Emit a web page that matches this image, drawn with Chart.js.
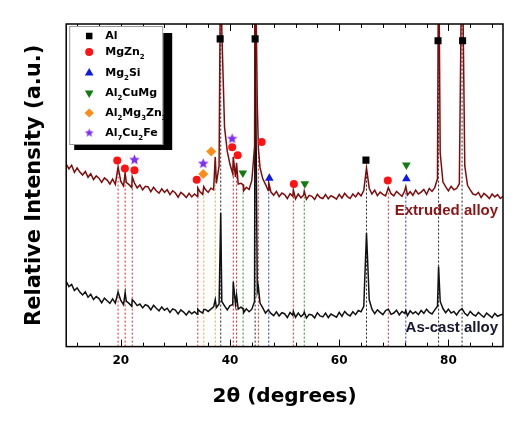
<!DOCTYPE html>
<html>
<head>
<meta charset="utf-8">
<script src="https://cdn.jsdelivr.net/npm/chart.js"></script>
<style>
  html, body { margin: 0; padding: 0; background: #fff; }
</style>
</head>
<body>
<canvas id="xrd" width="522" height="430"></canvas>
<script>
/* ---------- data ---------- */

// scans sampled every 0.5 deg from 10 to 90 (a.u.)
const gridStart = 10;
const gridStep = 0.5;

const extrudedGrid = [
  56.6, 55.1, 56.2, 54.0, 55.4, 54.1, 53.2, 54.3, 52.5, 53.6,
  51.8, 52.9, 52.2, 50.9, 52.3, 51.6, 50.4, 51.9, 50.3, 50.8,
  51.2, 49.8, 50.9, 50.2, 49.3, 50.7, 49.2, 50.1, 48.6, 49.7,
  49.5, 48.0, 49.4, 48.3, 47.6, 48.9, 47.8, 48.6, 47.1, 48.3,
  47.6, 46.3, 47.8, 47.1, 46.2, 47.5, 46.4, 47.3, 46.6, 48.0,
  47.2, 48.7, 47.8, 49.1, 48.6, 50.6, 56.0, 98.0, 68.0, 60.5,
  56.5, 53.6, 52.6, 50.4, 50.6, 48.3, 49.4, 48.7, 51.5, 62.0,
  75.0, 55.5, 52.0, 50.3, 48.4, 47.9, 46.9, 48.1, 46.5, 47.6,
  47.1, 45.9, 47.4, 46.6, 45.8, 47.3, 46.1, 47.0, 45.7, 46.9,
  46.6, 45.6, 47.2, 46.2, 45.9, 47.1, 45.8, 46.8, 46.3, 45.7,
  47.2, 46.0, 47.5, 46.5, 45.9, 47.3, 46.4, 47.7, 46.7, 48.4,
  47.5, 49.1, 47.3, 48.5, 46.8, 47.9, 47.2, 46.7, 48.2, 47.4,
  46.7, 48.1, 47.3, 46.6, 48.3, 47.0, 48.0, 46.9, 48.5, 47.3,
  47.9, 48.7, 47.2, 49.0, 48.1, 49.3, 52.0, 60.0, 51.0, 49.6,
  48.3, 49.7, 48.6, 49.0, 50.5, 52.0, 56.0, 50.0, 48.6, 47.3,
  47.0, 47.8, 46.2, 47.5, 46.8, 45.9, 47.3, 46.4, 47.1, 45.9,
  46.6
];

const asCastGrid = [
  20.2, 18.6, 19.3, 17.4, 18.2, 16.9, 16.0, 17.0, 15.3, 16.2,
  14.6, 15.5, 14.9, 13.6, 15.0, 14.2, 13.4, 14.8, 13.5, 13.8,
  14.3, 13.0, 14.1, 13.4, 12.5, 13.8, 12.7, 13.2, 12.0, 13.0,
  12.6, 11.4, 12.8, 11.9, 11.1, 12.3, 11.3, 11.9, 10.6, 11.7,
  11.3, 10.1, 11.4, 10.7, 9.8, 11.0, 10.2, 10.8, 10.0, 10.9,
  10.4, 11.5, 10.9, 11.6, 12.3, 12.1, 13.2, 14.0, 12.6, 11.4,
  12.7, 13.0, 13.2, 11.6, 12.2, 10.5, 11.7, 10.8, 11.6, 14.0,
  17.0, 13.5, 12.0, 10.4, 11.4, 10.3, 9.6, 10.8, 9.5, 10.5,
  10.2, 9.0, 10.6, 9.7, 9.1, 10.4, 9.3, 10.1, 8.9, 10.0,
  9.8, 8.9, 10.5, 9.5, 9.2, 10.4, 9.0, 10.1, 9.6, 9.1,
  10.6, 9.4, 10.9, 10.0, 9.5, 10.8, 9.9, 11.2, 10.8, 12.5,
  11.5, 14.5, 11.6, 10.2, 11.4, 10.6, 9.9, 11.2, 11.1, 10.0,
  10.4, 11.3, 9.8, 10.9, 10.3, 9.6, 11.1, 10.2, 10.8, 9.9,
  11.2, 10.3, 11.6, 10.6, 10.1, 11.4, 12.5, 14.0, 11.8, 10.5,
  11.6, 10.4, 10.9, 9.8, 11.1, 11.0, 10.3, 9.6, 10.9, 10.0,
  9.5, 10.6, 9.8, 9.1, 10.4, 9.7, 9.0, 10.3, 9.4, 9.8,
  10.0
];

// reflection positions and the scan heights there (130 = off the top)
const peakAngle    = [19.5, 20.8, 22.1, 34.1, 35.2, 37.3, 38.3, 40.6, 41.2, 42.4,
                      44.6, 45.2, 47.1, 51.6, 53.6, 65.0, 69.0, 72.2, 78.2, 82.5];
const peakExtruded = [55.7, 53.9, 52.6, 49.2, 49.6, 58.8, 130, 58.8, 57.0, 50.2,
                      130, 61.5, 50.8, 48.6, 48.2, 55.4, 49.3, 49.6, 130, 130];
const peakAsCast   = [16.9, 16.7, 14.5, 11.6, 11.5, 14.6, 41.5, 20.1, 16.0, 11.8,
                      105, 18.6, 11.4, 10.9, 10.7, 35.3, 11.6, 11.2, 24.8, 11.8];

// dotted guide lines per phase
const refRed    = [19.5, 20.8, 22.1, 34.1, 40.6, 41.2, 45.2, 51.6, 69.0];
const refOrange = [35.2, 37.3];
const refGreen  = [42.4, 53.6];
const refBlue   = [47.1, 72.2];
const refBlack  = [38.3, 44.6, 65.0, 78.2, 82.5];

// phase symbols
const alAngle        = [38.2, 44.6, 64.9, 78.1, 82.6];
const alHeight       = [95.4, 95.4, 57.8, 94.8, 94.8];
const mgZn2Angle     = [19.35, 20.75, 22.5, 33.9, 40.4, 41.4, 45.8, 51.7, 68.9];
const mgZn2Height    = [57.7, 55.2, 54.7, 51.7, 61.8, 59.3, 63.4, 50.4, 51.5];
const mg2SiAngle     = [47.2, 72.3];
const mg2SiHeight    = [52.2, 52.0];
const al2CuMgAngle   = [42.35, 53.7, 72.3];
const al2CuMgHeight  = [53.8, 50.5, 56.3];
const al2Mg3Zn3Angle = [35.1, 36.55];
const al2Mg3Zn3Height= [53.5, 60.5];
const al7Cu2FeAngle  = [22.5, 35.1, 40.4];
const al7Cu2FeHeight = [57.9, 56.7, 64.4];

const xTicks = [20, 40, 60, 80];

/* ---------- helpers ---------- */

function buildTrace(grid, peaks) {
  const pts = grid.map((y, i) => ({ x: +(gridStart + i * gridStep).toFixed(2), y }));
  peakAngle.forEach((a, i) => {
    const hit = pts.find(p => Math.abs(p.x - a) < 1e-6);
    if (hit) hit.y = peaks[i];
    else pts.push({ x: a, y: peaks[i] });
  });
  return pts.sort((p, q) => p.x - q.x);
}

function pairUp(xs, ys) {
  return xs.map((x, i) => ({ x, y: ys[i] }));
}

function makeStar(color, r) {
  const c = document.createElement('canvas');
  const s = Math.ceil(r * 2 + 2);
  c.width = c.height = s;
  const g = c.getContext('2d');
  g.fillStyle = color;
  g.beginPath();
  for (let k = 0; k < 10; k++) {
    const rr = k % 2 ? r * 0.45 : r;
    const a = -Math.PI / 2 + k * Math.PI / 5;
    g.lineTo(s / 2 + rr * Math.cos(a), s / 2 + rr * Math.sin(a));
  }
  g.closePath();
  g.fill();
  return c;
}

const C_EXT   = '#7e0c0c';
const C_CAST  = '#111111';
const C_AL    = '#000000';
const C_MGZN  = '#ff1212';
const C_MGSI  = '#1018e6';
const C_CUMG  = '#127a12';
const C_MGZN3 = '#ff8c14';
const C_FE    = '#7f2ff0';

const starImg = makeStar(C_FE, 5.5);
const starImgSmall = makeStar(C_FE, 4.5);

const extrudedPts = buildTrace(extrudedGrid, peakExtruded);
const asCastPts = buildTrace(asCastGrid, peakAsCast);

function extrudedAt(a) {
  const i = peakAngle.findIndex(p => Math.abs(p - a) < 1e-6);
  return Math.min(peakExtruded[i], 100);
}

function guideSets(list, color) {
  return list.map(a => ({
    data: [{ x: a, y: 0 }, { x: a, y: extrudedAt(a) }],
    showLine: true, borderColor: color, borderWidth: 1, borderDash: [2, 2],
    pointRadius: 0, order: 3
  }));
}

function markerSet(xs, ys, color, style, radius, rotation) {
  return {
    data: pairUp(xs, ys), showLine: false,
    pointStyle: style, pointRadius: radius, pointRotation: rotation || 0,
    backgroundColor: color, borderColor: color, borderWidth: 0, order: 0
  };
}

/* ---------- legend + frame + labels drawn on top ---------- */

const legendRows = [
  { parts: [['Al', 0]],                                     color: C_AL,    style: 'rect',     r: 4.6, rot: 0,   y: 36 },
  { parts: [['MgZn', 0], ['2', 1]],                         color: C_MGZN,  style: 'circle',   r: 4.0, rot: 0,   y: 52 },
  { parts: [['Mg', 0], ['2', 1], ['Si', 0]],                color: C_MGSI,  style: 'triangle', r: 5.0, rot: 0,   y: 73 },
  { parts: [['Al', 0], ['2', 1], ['CuMg', 0]],              color: C_CUMG,  style: 'triangle', r: 5.0, rot: 180, y: 93 },
  { parts: [['Al', 0], ['2', 1], ['Mg', 0], ['3', 1], ['Zn', 0], ['3', 1]], color: C_MGZN3, style: 'rectRot', r: 4.6, rot: 0, y: 113 },
  { parts: [['Al', 0], ['7', 1], ['Cu', 0], ['2', 1], ['Fe', 0]], color: C_FE, style: starImgSmall, r: 4.5, rot: 0, y: 133 }
];

const overlay = {
  id: 'overlay',
  afterDatasetsDraw(chart) {
    const { ctx, chartArea: ca, scales } = chart;
    const xs = scales.x, ys = scales.y;
    ctx.save();

    // box frame
    ctx.strokeStyle = '#000';
    ctx.lineWidth = 1.5;
    ctx.strokeRect(ca.left, ca.top, ca.right - ca.left, ca.bottom - ca.top);

    // inward tick marks, bottom and top
    ctx.lineWidth = 1;
    ctx.beginPath();
    for (let v = 12; v <= 88; v += 4) {
      const px = Math.round(xs.getPixelForValue(v)) + 0.5;
      const len = xTicks.includes(v) ? 7 : 4;
      ctx.moveTo(px, ca.bottom); ctx.lineTo(px, ca.bottom - len);
      ctx.moveTo(px, ca.top);    ctx.lineTo(px, ca.top + len);
    }
    ctx.stroke();

    // legend with drop shadow
    const bx = ca.left + 3, by = ca.top + 2, bw = 94, bh = 119;
    ctx.fillStyle = '#000';
    ctx.fillRect(bx + 5, by + 7, bw + 4, bh - 2);
    ctx.fillStyle = '#fff';
    ctx.fillRect(bx, by, bw, bh);
    ctx.strokeStyle = '#999';
    ctx.lineWidth = 1;
    ctx.strokeRect(bx + 0.5, by + 0.5, bw - 1, bh - 1);

    legendRows.forEach(row => {
      ctx.fillStyle = row.color;
      Chart.helpers.drawPoint(ctx, { pointStyle: row.style, rotation: row.rot, radius: row.r, borderWidth: 0 }, bx + 20, row.y);
      let tx = bx + 36;
      ctx.fillStyle = '#000';
      ctx.textBaseline = 'middle';
      ctx.textAlign = 'left';
      row.parts.forEach(([txt, sub]) => {
        ctx.font = sub ? 'bold 7px "DejaVu Sans"' : 'bold 11px "DejaVu Sans"';
        ctx.fillText(txt, tx, row.y + (sub ? 5 : 0));
        tx += ctx.measureText(txt).width;
      });
    });

    // sample labels
    ctx.textAlign = 'right';
    ctx.textBaseline = 'alphabetic';
    ctx.font = 'bold 15px "Liberation Sans"';
    ctx.fillStyle = '#8b1515';
    ctx.fillText('Extruded alloy', xs.getPixelForValue(89.1), ys.getPixelForValue(40.9));
    ctx.fillStyle = '#161630';
    ctx.fillText('As-cast alloy', xs.getPixelForValue(89.1), ys.getPixelForValue(4.6));

    ctx.restore();
  }
};

/* ---------- chart ---------- */

const datasets = [
  markerSet(alAngle, alHeight, C_AL, 'rect', 5, 0),
  markerSet(mgZn2Angle, mgZn2Height, C_MGZN, 'circle', 4, 0),
  markerSet(mg2SiAngle, mg2SiHeight, C_MGSI, 'triangle', 5, 0),
  markerSet(al2CuMgAngle, al2CuMgHeight, C_CUMG, 'triangle', 5, 180),
  markerSet(al2Mg3Zn3Angle, al2Mg3Zn3Height, C_MGZN3, 'rectRot', 5, 0),
  markerSet(al7Cu2FeAngle, al7Cu2FeHeight, C_FE, starImg, 5, 0),
  { data: extrudedPts, showLine: true, borderColor: C_EXT, borderWidth: 1.5, pointRadius: 0, order: 1 },
  { data: asCastPts, showLine: true, borderColor: C_CAST, borderWidth: 1.5, pointRadius: 0, order: 2 },
  ...guideSets(refRed, '#e0242c'),
  ...guideSets(refOrange, '#f0a030'),
  ...guideSets(refGreen, '#2a8a2a'),
  ...guideSets(refBlue, '#2828c8'),
  ...guideSets(refBlack, '#222222')
];

Chart.defaults.font.family = '"DejaVu Sans"';
Chart.defaults.color = '#000';

new Chart(document.getElementById('xrd'), {
  type: 'scatter',
  data: { datasets },
  options: {
    responsive: false,
    animation: false,
    devicePixelRatio: 1,
    layout: { padding: { top: 24, right: 19, left: 10, bottom: 21 } },
    plugins: { legend: { display: false }, tooltip: { enabled: false } },
    scales: {
      x: {
        type: 'linear', min: 10, max: 90,
        afterBuildTicks: s => { s.ticks = xTicks.map(v => ({ value: v })); },
        grid: { display: false, drawTicks: false },
        border: { display: false },
        ticks: { font: { size: 12, weight: 'bold' }, padding: 7, color: '#000' },
        title: { display: true, text: '2θ (degrees)', font: { size: 20, weight: 'bold' },
                 color: '#000', padding: { top: 10, bottom: 0 } }
      },
      y: {
        min: 0, max: 100,
        grid: { display: false, drawTicks: false },
        border: { display: false },
        ticks: { display: false },
        title: { display: true, text: 'Relative Intensity (a.u.)', font: { size: 21, weight: 'bold' },
                 color: '#000', padding: { top: 12, bottom: 19 } }
      }
    }
  },
  plugins: [overlay]
});
</script>
</body>
</html>
